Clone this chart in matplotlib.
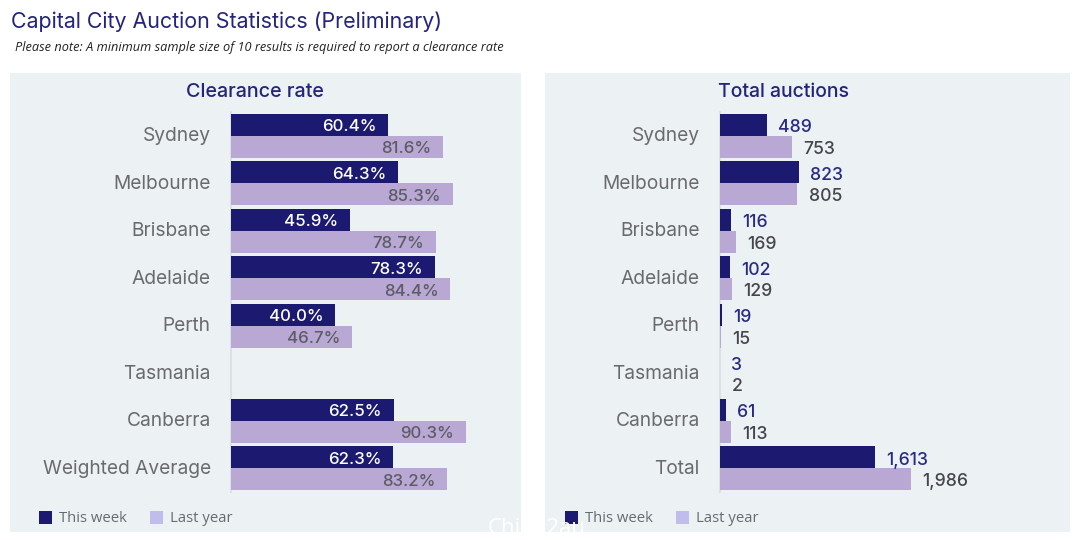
import matplotlib
matplotlib.use("Agg")
import matplotlib.pyplot as plt
from matplotlib.patches import Rectangle
from matplotlib.transforms import Affine2D

W, H = 1080, 540
NAVY = "#1b1a70"
LILAC = "#b9a8d4"
LEGEND_LILAC = "#c0bdec"
PANEL = "#ecf1f4"

rate_cities = ["Sydney", "Melbourne", "Brisbane", "Adelaide", "Perth", "Tasmania", "Canberra", "Weighted Average"]
rate_this_week = [60.4, 64.3, 45.9, 78.3, 40.0, None, 62.5, 62.3]
rate_last_year = [81.6, 85.3, 78.7, 84.4, 46.7, None, 90.3, 83.2]

total_cities = ["Sydney", "Melbourne", "Brisbane", "Adelaide", "Perth", "Tasmania", "Canberra", "Total"]
total_this_week = [489, 823, 116, 102, 19, 3, 61, 1613]
total_last_year = [753, 805, 169, 129, 15, 2, 113, 1986]

fig = plt.figure(figsize=(W / 100, H / 100), dpi=100, facecolor="white")


def px_axes(x0, y0, x1, y1):
    # pixel box, y measured from the top of the image
    return fig.add_axes([x0 / W, 1 - y1 / H, (x1 - x0) / W, (y1 - y0) / H])


def fig_text(x, y, s, **kw):
    fig.text(x / W, 1 - y / H, s, **kw)


def panel(x0, x1):
    fig.add_artist(Rectangle((x0 / W, 1 - 532 / H), (x1 - x0) / W, (532 - 73) / H,
                             transform=fig.transFigure, color=PANEL, lw=0, zorder=-1))


def bars(ax, cities, this_week, last_year, xmax):
    for i in range(len(cities)):
        if this_week[i] is not None:
            ax.barh(i - 0.23, this_week[i], 0.46, color=NAVY, zorder=3)
            ax.barh(i + 0.23, last_year[i], 0.46, color=LILAC, zorder=3)
    ax.set_xlim(0, xmax)
    ax.set_ylim(len(cities) - 0.5, -0.5)
    ax.set_yticks(range(len(cities)))
    ax.set_yticklabels(cities, fontsize=13.8, color="#6a6a6e", family="Inter")
    ax.tick_params(axis="y", length=0, pad=14.5)
    for t in ax.get_yticklabels():
        t.set_transform(t.get_transform() + Affine2D().translate(0, 1.5))
    ax.set_xticks([])
    ax.patch.set_visible(False)
    for side in ["top", "right", "bottom"]:
        ax.spines[side].set_visible(False)
    ax.spines["left"].set_color("#dde1e4")
    ax.spines["left"].set_linewidth(1.5)
    ax.spines["left"].set_zorder(1)


def legend(x):
    fig.add_artist(Rectangle((x / W, 1 - 524 / H), 13 / W, 13 / H, transform=fig.transFigure, color=NAVY, lw=0))
    fig_text(x + 20, 519, "This week", fontsize=10.7, color="#666b70", family="Open Sans", va="center")
    fig.add_artist(Rectangle(((x + 111) / W, 1 - 524 / H), 13 / W, 13 / H, transform=fig.transFigure, color=LEGEND_LILAC, lw=0))
    fig_text(x + 131, 519, "Last year", fontsize=10.7, color="#666b70", family="Open Sans", va="center")


panel(10, 521)
panel(545, 1070)

fig_text(11, 22, "Capital City Auction Statistics (Preliminary)", fontsize=15.4, color="#24247c",
         family="Inter", va="center")
fig_text(15, 48, "Please note: A minimum sample size of 10 results is required to report a clearance rate",
         fontsize=9.2, color="#222222", family="Open Sans", style="italic", va="center")
fig_text(255, 92, "Clearance rate", fontsize=14.2, color="#24247c", family="Inter", fontweight="medium",
         ha="center", va="center")
fig_text(783, 92, "Total auctions", fontsize=14, color="#24247c", family="Inter", fontweight="medium",
         ha="center", va="center")

# left chart, 2.6 px per percentage point
ax1 = px_axes(231, 112, 491, 492)
bars(ax1, rate_cities, rate_this_week, rate_last_year, 100)
for i in range(len(rate_cities)):
    if rate_this_week[i] is not None:
        ax1.annotate(f"{rate_this_week[i]:.1f}%", (rate_this_week[i], i - 0.23), xytext=(-8.5, -1.5),
                     textcoords="offset points", ha="right", va="center", fontsize=12.2,
                     color="white", family="Inter", fontweight="medium", zorder=4)
        ax1.annotate(f"{rate_last_year[i]:.1f}%", (rate_last_year[i], i + 0.23), xytext=(-8.5, -1.5),
                     textcoords="offset points", ha="right", va="center", fontsize=12.2,
                     color="#5c5c66", family="Inter", fontweight="medium", zorder=4)

# right chart
ax2 = px_axes(720, 112, 1070, 492)
bars(ax2, total_cities, total_this_week, total_last_year, 350 / 0.0962)
for i in range(len(total_cities)):
    ax2.annotate(f"{total_this_week[i]:,}", (total_this_week[i], i - 0.23), xytext=(8, -2),
                 textcoords="offset points", ha="left", va="center", fontsize=12.7,
                 color="#2a2a82", family="Inter", fontweight="medium", zorder=4)
    ax2.annotate(f"{total_last_year[i]:,}", (total_last_year[i], i + 0.23), xytext=(8, -2),
                 textcoords="offset points", ha="left", va="center", fontsize=12.7,
                 color="#45454d", family="Inter", fontweight="medium", zorder=4)

legend(39)
legend(565)

fig_text(488, 528, "China2au", fontsize=16, color="white", family="Open Sans", va="center", zorder=10)

fig.savefig("out.png", dpi=100, facecolor="white")
